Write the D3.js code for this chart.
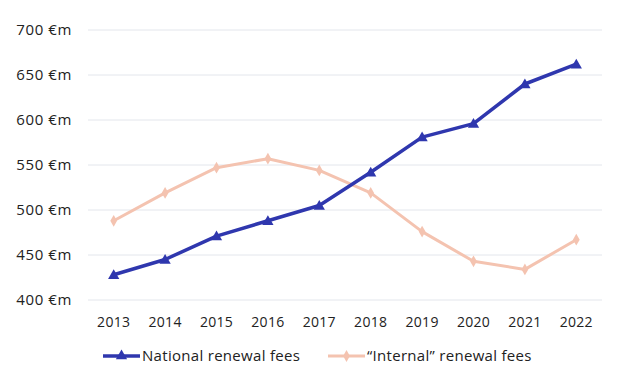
<!DOCTYPE html>
<html>
<head>
<meta charset="utf-8">
<script src="https://cdn.jsdelivr.net/npm/d3@7"></script>
<style>
  body { margin: 0; background: #fff; }
  svg { display: block; font-family: "Open Sans", sans-serif; }
</style>
</head>
<body>
<div id="chart"></div>
<script>
// data
const YEARS = ["2013", "2014", "2015", "2016", "2017", "2018", "2019", "2020", "2021", "2022"];
const NATIONAL = [428, 445, 471, 488, 505, 542, 581, 596, 640, 662];
const INTERNAL = [488, 519, 547, 557, 544, 519, 476, 443, 434, 467];
const Y_TICKS = [400, 450, 500, 550, 600, 650, 700];

const WIDTH = 624;
const HEIGHT = 377;
const MARGIN = { top: 30, right: 22, bottom: 77, left: 88 };
const NAVY = "#2f37ae";
const PEACH = "#f4c3b0";

const svg = d3.select("#chart")
  .append("svg")
  .attr("width", WIDTH)
  .attr("height", HEIGHT);

const x = d3.scaleBand()
  .domain(YEARS)
  .range([MARGIN.left, WIDTH - MARGIN.right]);

const y = d3.scaleLinear()
  .domain([400, 700])
  .range([HEIGHT - MARGIN.bottom, MARGIN.top]);

const cx = (d, i) => x(YEARS[i]) + x.bandwidth() / 2;

// gridlines + y labels
svg.append("g")
  .selectAll("line")
  .data(Y_TICKS)
  .join("line")
  .attr("x1", MARGIN.left)
  .attr("x2", WIDTH - MARGIN.right)
  .attr("y1", (d) => y(d))
  .attr("y2", (d) => y(d))
  .attr("stroke", "#e3e6ec")
  .attr("stroke-width", 1);

svg.append("g")
  .selectAll("text")
  .data(Y_TICKS)
  .join("text")
  .attr("x", 72)
  .attr("y", (d) => y(d))
  .attr("dy", "0.35em")
  .attr("text-anchor", "end")
  .attr("font-size", "15px")
  .attr("letter-spacing", "0.6px")
  .attr("fill", "#222")
  .text((d) => d + " €m");

// x labels
svg.append("g")
  .selectAll("text")
  .data(YEARS)
  .join("text")
  .attr("x", (d) => x(d) + x.bandwidth() / 2)
  .attr("y", 322)
  .attr("dy", "0.35em")
  .attr("text-anchor", "middle")
  .attr("font-size", "14px")
  .attr("letter-spacing", "0.3px")
  .attr("fill", "#222")
  .text((d) => d);

const line = d3.line().x(cx).y((d) => y(d));

const triangle = d3.symbol().type(d3.symbolTriangle).size(55);
const diamond = d3.symbol().type(d3.symbolDiamond).size(40);

// internal series (drawn first, under national)
svg.append("path")
  .datum(INTERNAL)
  .attr("fill", "none")
  .attr("stroke", PEACH)
  .attr("stroke-width", 3)
  .attr("stroke-linejoin", "round")
  .attr("d", line);
svg.append("g")
  .selectAll("path")
  .data(INTERNAL)
  .join("path")
  .attr("d", diamond)
  .attr("fill", PEACH)
  .attr("transform", (d, i) => `translate(${cx(d, i)},${y(d)})`);

// national series
svg.append("path")
  .datum(NATIONAL)
  .attr("fill", "none")
  .attr("stroke", NAVY)
  .attr("stroke-width", 3.5)
  .attr("stroke-linejoin", "round")
  .attr("d", line);
svg.append("g")
  .selectAll("path")
  .data(NATIONAL)
  .join("path")
  .attr("d", triangle)
  .attr("fill", NAVY)
  .attr("transform", (d, i) => `translate(${cx(d, i)},${y(d) + 1})`);

// legend
const legend = [
  { name: "National renewal fees", color: NAVY, sym: triangle, x0: 103, w: 3.5 },
  { name: "\u201CInternal\u201D renewal fees", color: PEACH, sym: diamond, x0: 328, w: 3 },
];
const lg = svg.append("g")
  .selectAll("g")
  .data(legend)
  .join("g")
  .attr("transform", (d) => `translate(${d.x0},356)`);
lg.append("line")
  .attr("x1", 0)
  .attr("x2", 37)
  .attr("stroke", (d) => d.color)
  .attr("stroke-width", (d) => d.w);
lg.append("path")
  .attr("d", (d) => d.sym())
  .attr("fill", (d) => d.color)
  .attr("transform", "translate(18.5,0)");
lg.append("text")
  .attr("x", 39)
  .attr("dy", "0.35em")
  .attr("font-size", "15px")
  .attr("letter-spacing", "0.3px")
  .attr("fill", "#222")
  .text((d) => d.name);
</script>
</body>
</html>
